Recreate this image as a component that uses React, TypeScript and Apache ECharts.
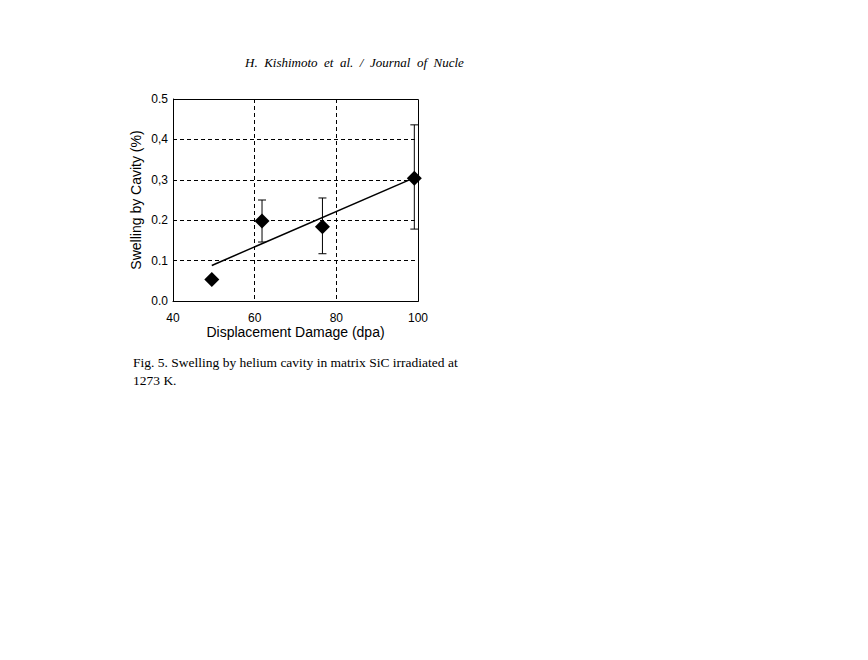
import React, { useEffect, useRef } from "react";
import * as echarts from "echarts";

const damage = [49.5, 61.8, 76.6, 99.1];
const swelling = [0.053, 0.198, 0.184, 0.304];
const errLow = [null, 0.146, 0.117, 0.178];
const errHigh = [null, 0.25, 0.255, 0.436];
const fitX = [49.5, 98.6];
const fitY = [0.088, 0.303];
const yTickLabels = ["0.0", "0.1", "0.2", "0,3", "0,4", "0.5"];
const xTickLabels = ["40", "60", "80", "100"];
const headerText = "H.  Kishimoto  et  al.  /  Journal  of  Nucle";
const captionLines = [
  "Fig. 5. Swelling by helium cavity in matrix SiC irradiated at",
  "1273 K.",
];

export default function App() {
  const ref = useRef<HTMLDivElement>(null);
  useEffect(() => {
    const chart = echarts.init(ref.current!, null, { renderer: "svg" });
    const gridLeft = 165;
    const gridTop = 91;
    const gridW = 245;
    const gridH = 202;
    const sans = "'Liberation Sans', Arial, sans-serif";
    const serif = "'Liberation Serif', 'Times New Roman', serif";
    const errData = damage
      .map((x, i) => (errLow[i] == null ? null : [x, errLow[i], errHigh[i]]))
      .filter((d) => d !== null);
    chart.setOption({
      animation: false,
      backgroundColor: "#ffffff",
      grid: { left: gridLeft, top: gridTop, width: gridW, height: gridH, show: false },
      xAxis: {
        type: "value",
        min: 40,
        max: 100,
        interval: 20,
        name: "Displacement Damage (dpa)",
        nameLocation: "middle",
        nameGap: 22,
        nameTextStyle: { fontFamily: sans, fontSize: 14, color: "#000" },
        axisLine: { show: true, onZero: false, lineStyle: { color: "#000", width: 1 } },
        axisTick: { show: false },
        axisLabel: {
          margin: 11,
          fontFamily: sans,
          fontSize: 12,
          color: "#000",
          formatter: (v: number) => xTickLabels[Math.round((v - 40) / 20)] ?? "",
        },
        splitLine: {
          show: true,
          showMinLine: false,
          showMaxLine: false,
          lineStyle: { color: "#000", width: 1, type: [4, 3] },
        },
      },
      yAxis: {
        type: "value",
        min: 0,
        max: 0.5,
        interval: 0.1,
        name: "Swelling by Cavity (%)",
        nameLocation: "middle",
        nameGap: 30,
        nameTextStyle: { fontFamily: sans, fontSize: 14, color: "#000" },
        axisLine: { show: true, lineStyle: { color: "#000", width: 1 } },
        axisTick: { show: false },
        axisLabel: {
          margin: 5,
          fontFamily: sans,
          fontSize: 12,
          color: "#000",
          formatter: (v: number) => yTickLabels[Math.round(v * 10)] ?? "",
        },
        splitLine: {
          show: true,
          showMinLine: false,
          showMaxLine: false,
          lineStyle: { color: "#000", width: 1, type: [4, 3] },
        },
      },
      graphic: [
        {
          type: "rect",
          shape: { x: gridLeft + 0.5, y: gridTop + 0.5, width: gridW, height: gridH },
          style: { fill: "none", stroke: "#000", lineWidth: 1 },
          z: 10,
        },
        {
          type: "text",
          left: 237,
          top: 48,
          style: {
            text: headerText,
            font: `italic 13px ${serif}`,
            fill: "#000",
          },
        },
        {
          type: "text",
          left: 125,
          top: 345,
          style: {
            text: captionLines.join("\n"),
            font: `13.5px ${serif}`,
            lineHeight: 18,
            fill: "#000",
          },
        },
      ],
      series: [
        {
          type: "line",
          data: fitX.map((x, i) => [x, fitY[i]]),
          symbol: "none",
          lineStyle: { color: "#000", width: 1.5 },
          z: 3,
        },
        {
          type: "custom",
          data: errData,
          renderItem: (params: any, api: any) => {
            const x = api.value(0);
            const lo = api.coord([x, api.value(1)]);
            const hi = api.coord([x, api.value(2)]);
            const cw = 4;
            const st = { stroke: "#000", lineWidth: 1 };
            return {
              type: "group",
              children: [
                { type: "line", shape: { x1: lo[0], y1: lo[1], x2: hi[0], y2: hi[1] }, style: st },
                { type: "line", shape: { x1: lo[0] - cw, y1: lo[1], x2: lo[0] + cw, y2: lo[1] }, style: st },
                { type: "line", shape: { x1: hi[0] - cw, y1: hi[1], x2: hi[0] + cw, y2: hi[1] }, style: st },
              ],
            };
          },
          z: 4,
        },
        {
          type: "scatter",
          data: damage.map((x, i) => [x, swelling[i]]),
          symbol: "diamond",
          symbolSize: [15, 15],
          itemStyle: { color: "#000", opacity: 1 },
          z: 5,
        },
      ],
    });
    return () => chart.dispose();
  }, []);
  return <div ref={ref} style={{ width: 852, height: 644 }} />;
}
